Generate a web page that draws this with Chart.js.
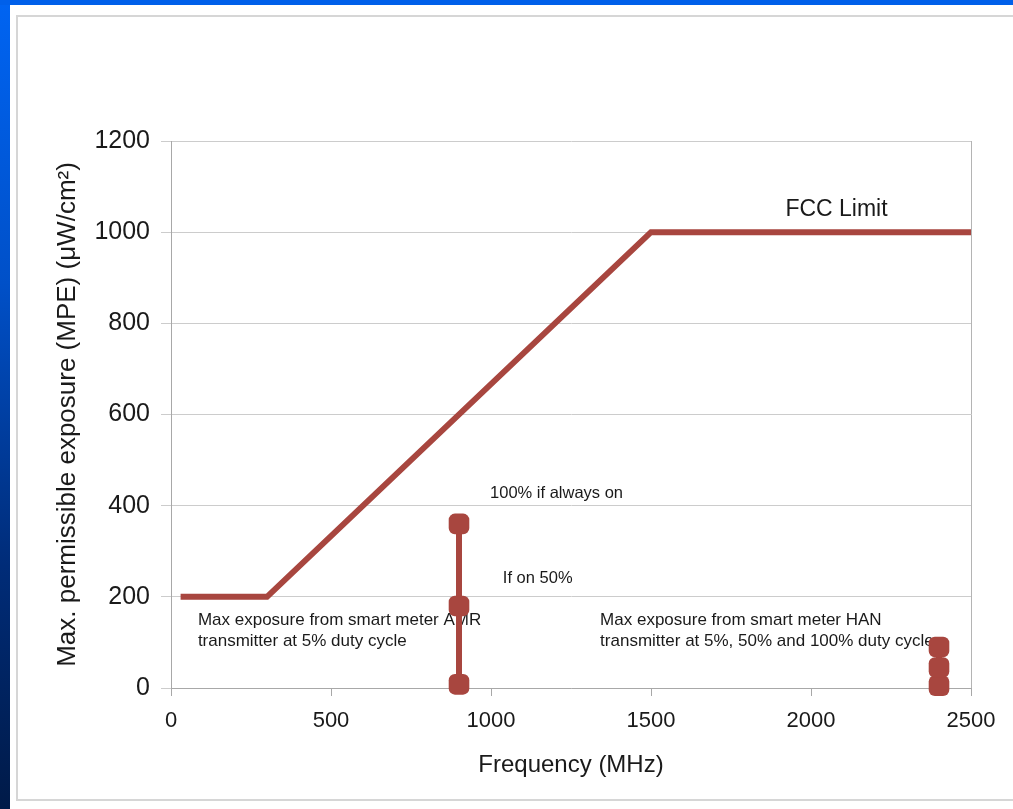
<!DOCTYPE html>
<html>
<head>
<meta charset="utf-8">
<script src="https://cdn.jsdelivr.net/npm/chart.js@4.4.1/dist/chart.umd.min.js"></script>
<style>
  html, body { margin: 0; padding: 0; }
  body { width: 1013px; height: 809px; background: #fff; position: relative; overflow: hidden; }
  #strip-left { position: absolute; left: 0; top: 0; width: 10px; height: 809px;
    background: linear-gradient(to bottom, #0064f2 0%, #0050c8 35%, #002c78 70%, #001a48 100%); }
  #strip-top { position: absolute; left: 0; top: 0; width: 1013px; height: 5px; background: #0060ea; }
  #frame { position: absolute; left: 16px; top: 15px; width: 1000px; height: 782px;
    border: 2px solid #d6d6d6; border-right: none; }
  #wrap { position: absolute; left: 18px; top: 17px; width: 995px; height: 781px; }
</style>
</head>
<body>
<div id="strip-left"></div>
<div id="strip-top"></div>
<div id="frame"></div>
<div id="wrap"><canvas id="mpe-canvas"></canvas></div>
<script>
// FCC limit curve
const fccFreq = [30, 300, 1500, 2500]
const fccMpe = [200, 200, 1000, 1000]

// smart meter AMR transmitter (5%, 50%, 100%)
const amrFreq = [900, 900, 900]
const amrMpe = [8, 180, 360]

// smart meter HAN transmitter (5%, 50%, 100%)
const hanFreq = [2400, 2400, 2400]
const hanMpe = [5, 45, 90]

const xTicks = [0, 500, 1000, 1500, 2000, 2500]
const yTicks = [0, 200, 400, 600, 800, 1000, 1200]

const red = "#a8463f"
const toPoints = (xs, ys) => xs.map((x, i) => ({ x: x, y: ys[i] }))

// text notes, placed in data units
const sans = "'Liberation Sans', Arial, sans-serif"
const notes = [
  { text: "FCC Limit", x: 1920, y: 1050, font: "23px " + sans },
  { text: "100% if always on", x: 997, y: 426, font: "16.5px " + sans },
  { text: "If on 50%", x: 1037, y: 241, font: "16.5px " + sans },
  { text: "Max exposure from smart meter AMR", x: 84, y: 149, font: "17px " + sans },
  { text: "transmitter at 5% duty cycle", x: 84, y: 103, font: "17px " + sans },
  { text: "Max exposure from smart meter HAN", x: 1341, y: 149, font: "17px " + sans },
  { text: "transmitter at 5%, 50% and 100% duty cycle", x: 1341, y: 103, font: "17px " + sans },
]

const notesPlugin = {
  id: "notes",
  beforeDatasetsDraw(chart) {
    const { ctx, scales } = chart
    ctx.save()
    ctx.fillStyle = "#1a1a1a"
    ctx.textAlign = "left"
    ctx.textBaseline = "middle"
    notes.forEach((n) => {
      ctx.font = n.font
      ctx.fillText(n.text, scales.x.getPixelForValue(n.x), scales.y.getPixelForValue(n.y))
    })
    ctx.restore()
  },
  afterDraw(chart) {
    // right edge of the plot
    const { ctx, chartArea } = chart
    ctx.save()
    ctx.strokeStyle = "#b4b4b4"
    ctx.lineWidth = 1
    ctx.beginPath()
    ctx.moveTo(Math.round(chartArea.right) + 0.5, chartArea.top)
    ctx.lineTo(Math.round(chartArea.right) + 0.5, chartArea.bottom)
    ctx.stroke()
    ctx.restore()
  },
}

const canvas = document.getElementById("mpe-canvas")
new Chart(canvas, {
  type: "scatter",
  data: {
    datasets: [
      {
        label: "FCC Limit",
        data: toPoints(fccFreq, fccMpe),
        showLine: true,
        borderColor: red,
        borderWidth: 6,
        borderCapStyle: "butt",
        pointRadius: 0,
        clip: false,
      },
      {
        label: "AMR",
        data: toPoints(amrFreq, amrMpe),
        showLine: true,
        borderColor: red,
        backgroundColor: red,
        borderWidth: 6,
        pointStyle: "rectRounded",
        pointRadius: 12,
        pointBorderWidth: 0,
        clip: false,
      },
      {
        label: "HAN",
        data: toPoints(hanFreq, hanMpe),
        showLine: true,
        borderColor: red,
        backgroundColor: red,
        borderWidth: 6,
        pointStyle: "rectRounded",
        pointRadius: 12,
        pointBorderWidth: 0,
        clip: false,
      },
    ],
  },
  options: {
    responsive: true,
    maintainAspectRatio: false,
    animation: false,
    layout: { padding: { top: 124, right: 42, left: 0, bottom: 0 } },
    plugins: {
      legend: { display: false },
      tooltip: { enabled: false },
    },
    scales: {
      x: {
        type: "linear",
        min: 0,
        max: 2500,
        afterFit: (scale) => { scale.height = 110 },
        afterBuildTicks: (scale) => { scale.ticks = xTicks.map((v) => ({ value: v })) },
        grid: { drawOnChartArea: false, drawTicks: true, tickLength: 8, color: "#a8a8a8" },
        border: { color: "#a8a8a8" },
        ticks: {
          padding: 12,
          color: "#1a1a1a",
          maxRotation: 0,
          callback: (v) => String(v),
          font: { family: "'Liberation Sans Narrow', 'Liberation Sans', Arial, sans-serif", size: 22 },
        },
        title: {
          display: true,
          text: "Frequency (MHz)",
          color: "#1a1a1a",
          padding: { top: 0, bottom: 18 },
          font: { family: sans, size: 24 },
        },
      },
      y: {
        min: 0,
        max: 1200,
        afterFit: (scale) => { scale.width = 153 },
        afterBuildTicks: (scale) => { scale.ticks = yTicks.map((v) => ({ value: v })) },
        grid: { color: "#cccccc", drawTicks: true, tickLength: 10 },
        border: { color: "#a8a8a8" },
        ticks: {
          padding: 11,
          color: "#1a1a1a",
          callback: (v) => String(v),
          font: { family: sans, size: 25 },
        },
        title: {
          display: true,
          text: "Max. permissible exposure (MPE) (μW/cm²)",
          color: "#1a1a1a",
          padding: { top: 34, bottom: 0 },
          font: { family: sans, size: 26 },
        },
      },
    },
  },
  plugins: [notesPlugin],
})
</script>
</body>
</html>
